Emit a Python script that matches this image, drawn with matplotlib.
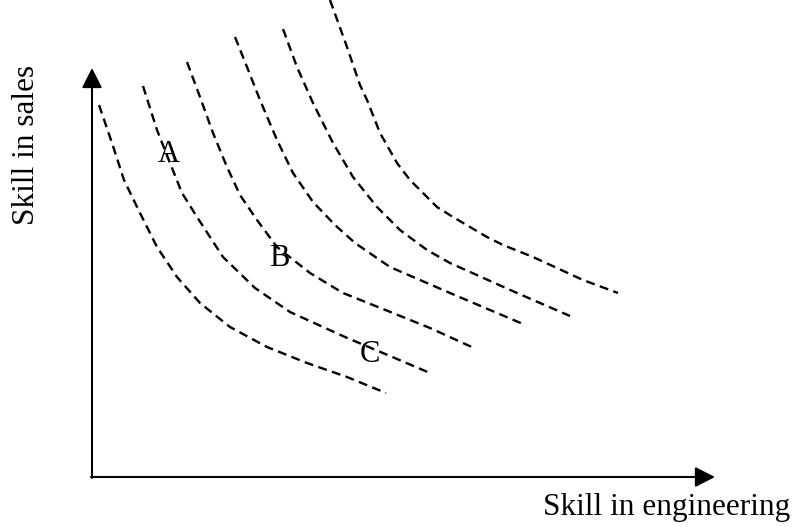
import matplotlib
matplotlib.use('Agg')
import matplotlib.pyplot as plt

# skill curves (x = engineering, y = sales)
c1_x = [7, 20, 32, 48, 65, 85, 108, 138, 175, 215, 255, 294]
c1_y = [372, 334, 297, 264, 230, 200, 174, 150, 130, 114, 100, 84]
c2_x = [51, 65, 78, 90, 105, 131, 163, 198, 253, 298, 338]
c2_y = [391, 347, 314, 284, 260, 220, 189, 165, 140, 121, 104]
c3_x = [95, 108, 121, 135, 148, 165, 185, 218, 251, 291, 338, 382]
c3_y = [415, 380, 344, 310, 282, 257, 230, 204, 184, 168, 149, 129]
c4_x = [143, 155, 168, 185, 201, 221, 243, 263, 298, 358, 398, 431]
c4_y = [440, 410, 377, 337, 304, 275, 252, 234, 210, 184, 167, 153]
c5_x = [191, 205, 221, 241, 261, 285, 308, 335, 358, 425, 478]
c5_y = [448, 410, 374, 334, 300, 270, 247, 227, 214, 184, 161]
c6_x = [238, 255, 268, 275, 288, 305, 318, 331, 345, 361, 378, 395, 411, 441, 491, 526]
c6_y = [477, 430, 392, 377, 344, 314, 297, 284, 270, 260, 250, 240, 232, 220, 197, 184]

point_labels = ['A', 'B', 'C']
point_x = [77, 187, 278]
point_y = [323, 219, 122]

x_label = 'Skill in engineering'
y_label = 'Skill in sales'
x_max = 623
y_max = 409

plt.rcParams['font.family'] = ['Liberation Serif', 'DejaVu Serif']

fig = plt.figure(figsize=(7.97, 5.27), dpi=100)
ax = fig.add_axes([0, 0, 1, 1])
ax.set_xlim(-92, 705)
ax.set_ylim(-50, 477)
ax.axis('off')

for xs, ys in [(c1_x, c1_y), (c2_x, c2_y), (c3_x, c3_y),
               (c4_x, c4_y), (c5_x, c5_y), (c6_x, c6_y)]:
    ax.plot(xs, ys, color='black', lw=1.7, dashes=(3.8, 2.3),
            solid_joinstyle='round')

# axes with arrow heads
style = '-|>,head_length=0.55,head_width=0.28'
ax.annotate('', xy=(x_max, 0), xytext=(-1, 0),
            arrowprops=dict(arrowstyle=style, mutation_scale=22, lw=1.5,
                            color='black', shrinkA=0, shrinkB=0))
ax.annotate('', xy=(0, y_max), xytext=(0, -1),
            arrowprops=dict(arrowstyle=style, mutation_scale=22, lw=1.5,
                            color='black', shrinkA=0, shrinkB=0))

for lab, px, py in zip(point_labels, point_x, point_y):
    ax.text(px, py, lab, fontsize=22, ha='center', va='center')

ax.text(451, -38, x_label, fontsize=22.5, ha='left', va='baseline')
ax.text(-65, 332, y_label, fontsize=22.5, ha='center', va='center', rotation=90)

fig.savefig('out.png', dpi=100)
